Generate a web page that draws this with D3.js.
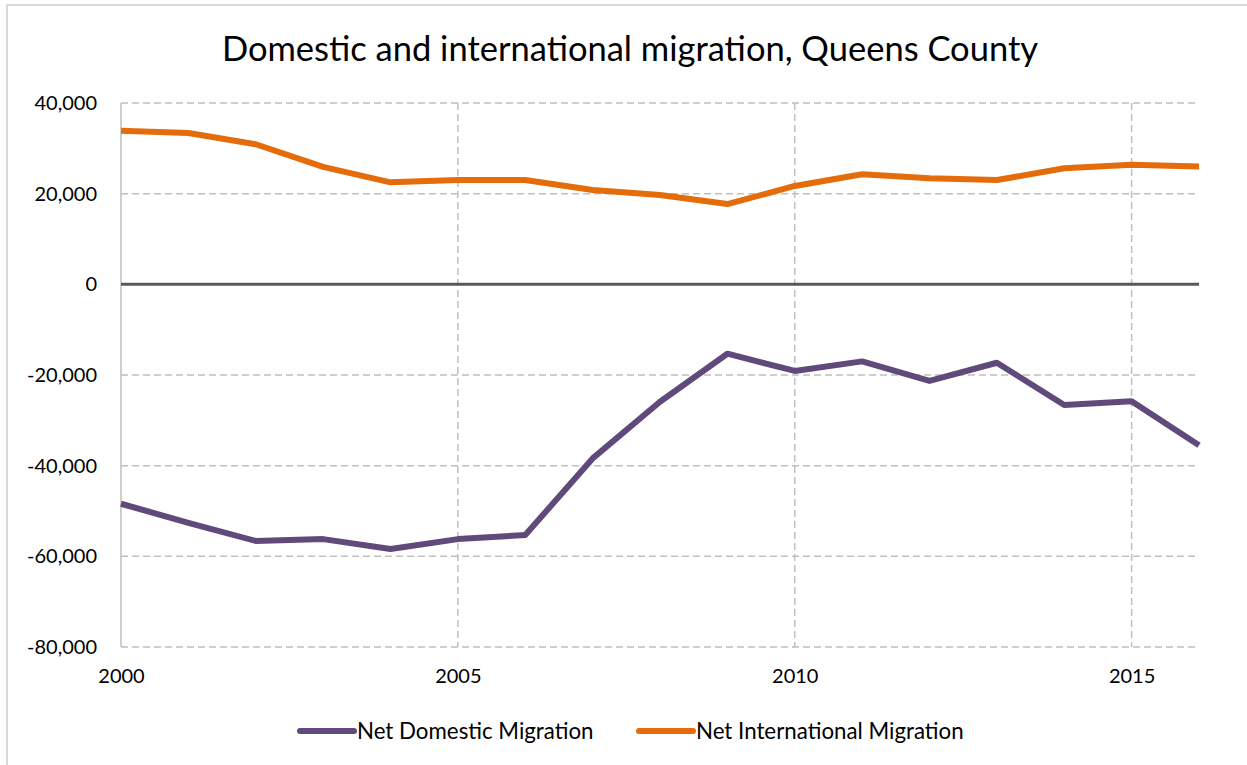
<!DOCTYPE html>
<html>
<head>
<meta charset="utf-8">
<script src="https://cdn.jsdelivr.net/npm/d3@7"></script>
<style>
    body { margin: 0; background: #fff; }
    svg { display: block; font-family: Lato, "Open Sans", sans-serif; }
</style>
</head>
<body>
<div id="chart"></div>
<script>
// data
const years = [2000, 2001, 2002, 2003, 2004, 2005, 2006, 2007, 2008,
    2009, 2010, 2011, 2012, 2013, 2014, 2015, 2016];
const domestic = [-48400, -52600, -56600, -56200, -58400, -56200, -55300, -38400, -25900,
    -15300, -19100, -17000, -21300, -17300, -26600, -25800, -35500];
const international = [33900, 33400, 30900, 25900, 22500, 23000, 23000, 20800, 19700,
    17700, 21700, 24300, 23400, 23000, 25600, 26400, 26000];
const yTicks = [40000, 20000, 0, -20000, -40000, -60000, -80000];
const xTicks = [2000, 2005, 2010, 2015];
const seriesNames = ['Net Domestic Migration', 'Net International Migration'];
const seriesColors = ['#604A7B', '#E46C0A'];

const width = 1247, height = 765;
const margin = {top: 103, right: 48, bottom: 118, left: 121};

const svg = d3.select('#chart')
    .append('svg')
    .attr('width', width)
    .attr('height', height);

// chart area border (only top and left show in the picture)
svg.append('rect')
    .attr('x', 7).attr('y', 5)
    .attr('width', width + 20).attr('height', height + 20)
    .attr('fill', 'none')
    .attr('stroke', '#D9D9D9')
    .attr('stroke-width', 2);

const xScale = d3.scaleLinear().domain([2000, 2016]).range([margin.left, width - margin.right]);
const yScale = d3.scaleLinear().domain([-80000, 40000]).range([height - margin.bottom, margin.top]);

// title
svg.append('text')
    .attr('x', 630)
    .attr('y', 61)
    .attr('text-anchor', 'middle')
    .attr('font-size', 34.5)
    .attr('fill', '#000')
    .text('Domestic and international migration, Queens County');

// horizontal gridlines
svg.append('g')
    .selectAll('line')
    .data(yTicks.filter(d => d !== 0))
    .join('line')
    .attr('x1', margin.left).attr('x2', width - margin.right)
    .attr('y1', d => yScale(d)).attr('y2', d => yScale(d))
    .attr('stroke', '#BFBFBF')
    .attr('stroke-width', 1.5)
    .attr('stroke-dasharray', '7,4');

// vertical gridlines
svg.append('g')
    .selectAll('line')
    .data(xTicks.filter(d => d !== 2000))
    .join('line')
    .attr('x1', d => xScale(d)).attr('x2', d => xScale(d))
    .attr('y1', margin.top).attr('y2', height - margin.bottom)
    .attr('stroke', '#BFBFBF')
    .attr('stroke-width', 1.5)
    .attr('stroke-dasharray', '7,4');

// left axis line
svg.append('line')
    .attr('x1', margin.left).attr('x2', margin.left)
    .attr('y1', margin.top).attr('y2', height - margin.bottom)
    .attr('stroke', '#BFBFBF')
    .attr('stroke-width', 1.5);

// y axis labels (plain hyphen for negatives, like the original)
const yAxis = d3.axisLeft(yScale)
    .tickValues(yTicks)
    .tickSize(0)
    .tickPadding(24)
    .tickFormat(d => d3.format(',')(d).replace('−', '-'));
const yAxisG = svg.append('g')
    .attr('transform', `translate(${margin.left},0)`)
    .call(yAxis);
yAxisG.select('.domain').remove();
yAxisG.selectAll('text')
    .attr('font-size', 20)
    .attr('font-family', 'Lato, "Open Sans", sans-serif')
    .attr('fill', '#000');

// x axis labels
const xAxis = d3.axisBottom(xScale)
    .tickValues(xTicks)
    .tickSize(0)
    .tickPadding(22)
    .tickFormat(d3.format('d'));
const xAxisG = svg.append('g')
    .attr('transform', `translate(0,${height - margin.bottom})`)
    .call(xAxis);
xAxisG.select('.domain').remove();
xAxisG.selectAll('text')
    .attr('font-size', 20)
    .attr('font-family', 'Lato, "Open Sans", sans-serif')
    .attr('fill', '#000');

// zero line
svg.append('line')
    .attr('x1', margin.left).attr('x2', width - margin.right)
    .attr('y1', yScale(0)).attr('y2', yScale(0))
    .attr('stroke', '#595959')
    .attr('stroke-width', 3);

// series lines
const line = d3.line()
    .x((d, i) => xScale(years[i]))
    .y(d => yScale(d));

[domestic, international].forEach((values, k) => {
    svg.append('path')
        .datum(values)
        .attr('fill', 'none')
        .attr('stroke', seriesColors[k])
        .attr('stroke-width', 6)
        .attr('stroke-linejoin', 'round')
        .attr('d', line);
});

// legend
const legendX = [300, 639];
const legend = svg.append('g')
    .selectAll('g')
    .data(seriesNames)
    .join('g')
    .attr('transform', (d, i) => `translate(${legendX[i]},731)`);
legend.append('line')
    .attr('x1', 0).attr('x2', 54)
    .attr('stroke', (d, i) => seriesColors[i])
    .attr('stroke-width', 6)
    .attr('stroke-linecap', 'round');
legend.append('text')
    .attr('x', 57)
    .attr('y', 7.5)
    .attr('font-size', 22.3)
    .attr('fill', '#000')
    .text(d => d);
</script>
</body>
</html>
